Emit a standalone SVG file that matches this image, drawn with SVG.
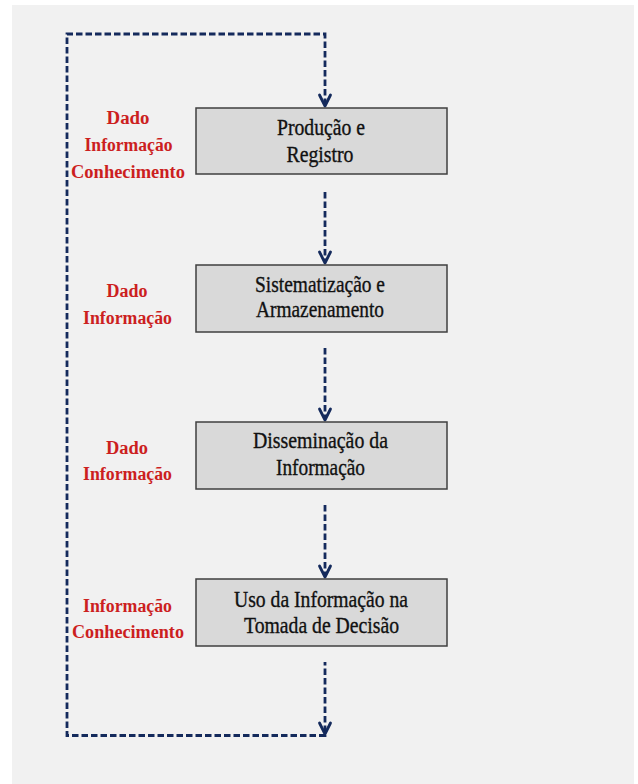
<svg xmlns="http://www.w3.org/2000/svg" width="638" height="784" viewBox="0 0 638 784">
<style>
.box{fill:#d9d9d9;stroke:#3f3f3f;stroke-width:1.5}
.t{font-family:"Liberation Serif","Times New Roman",serif;font-size:23px;fill:#111;stroke:#111;stroke-width:0.35;text-anchor:middle}
.r{font-family:"Liberation Serif","Times New Roman",serif;font-size:18.5px;font-weight:bold;fill:#cc1f1f;text-anchor:middle}
.c{fill:none;stroke:#142a5c;stroke-width:2.8;stroke-dasharray:6.5 3}
.h{fill:none;stroke:#142a5c;stroke-width:2.8;stroke-linecap:round;stroke-linejoin:round}
</style>
<rect x="0" y="0" width="638" height="784" fill="#ffffff"/>
<rect x="12" y="5" width="622" height="779" fill="#f1f1f1"/>
<g id="connectors">
<path class="c" d="M325,105 V34 H67 V735.5 H325 V662"/>
<path class="c" d="M325,192 V261"/>
<path class="c" d="M325,348 V418"/>
<path class="c" d="M325,505 V575"/>
<path class="h" d="M319.5,95 L325,106 L330.5,95"/>
<path class="h" d="M319.5,252 L325,263 L330.5,252"/>
<path class="h" d="M319.5,409 L325,420 L330.5,409"/>
<path class="h" d="M319.5,566 L325,577 L330.5,566"/>
<path class="h" d="M319.5,723 L325,734 L330.5,723"/>
</g>
<g id="node1">
<rect class="box" x="196" y="108" width="251" height="66"/>
<text class="t" x="321" y="135" textLength="88" lengthAdjust="spacingAndGlyphs">Produção e</text>
<text class="t" x="320" y="162" textLength="67" lengthAdjust="spacingAndGlyphs">Registro</text>
</g>
<g id="node2">
<rect class="box" x="196" y="265" width="251" height="67"/>
<text class="t" x="320" y="292" textLength="130" lengthAdjust="spacingAndGlyphs">Sistematização e</text>
<text class="t" x="320" y="317" textLength="128" lengthAdjust="spacingAndGlyphs">Armazenamento</text>
</g>
<g id="node3">
<rect class="box" x="196" y="422" width="251" height="67"/>
<text class="t" x="320.5" y="448" textLength="135" lengthAdjust="spacingAndGlyphs">Disseminação da</text>
<text class="t" x="320.5" y="475" textLength="89" lengthAdjust="spacingAndGlyphs">Informação</text>
</g>
<g id="node4">
<rect class="box" x="196" y="579" width="251" height="67"/>
<text class="t" x="321" y="607" textLength="174" lengthAdjust="spacingAndGlyphs">Uso da Informação na</text>
<text class="t" x="321.5" y="633" textLength="155" lengthAdjust="spacingAndGlyphs">Tomada de Decisão</text>
</g>
<g id="label1">
<text class="r" x="128" y="124" textLength="43" lengthAdjust="spacingAndGlyphs">Dado</text>
<text class="r" x="128.5" y="151" textLength="88" lengthAdjust="spacingAndGlyphs">Informação</text>
<text class="r" x="128" y="178" textLength="114" lengthAdjust="spacingAndGlyphs">Conhecimento</text>
</g>
<g id="label2">
<text class="r" x="127" y="297" textLength="41" lengthAdjust="spacingAndGlyphs">Dado</text>
<text class="r" x="127.5" y="324" textLength="89" lengthAdjust="spacingAndGlyphs">Informação</text>
</g>
<g id="label3">
<text class="r" x="127" y="454" textLength="42" lengthAdjust="spacingAndGlyphs">Dado</text>
<text class="r" x="127.5" y="480" textLength="89" lengthAdjust="spacingAndGlyphs">Informação</text>
</g>
<g id="label4">
<text class="r" x="127.5" y="612" textLength="89" lengthAdjust="spacingAndGlyphs">Informação</text>
<text class="r" x="128" y="638" textLength="112" lengthAdjust="spacingAndGlyphs">Conhecimento</text>
</g>
</svg>
